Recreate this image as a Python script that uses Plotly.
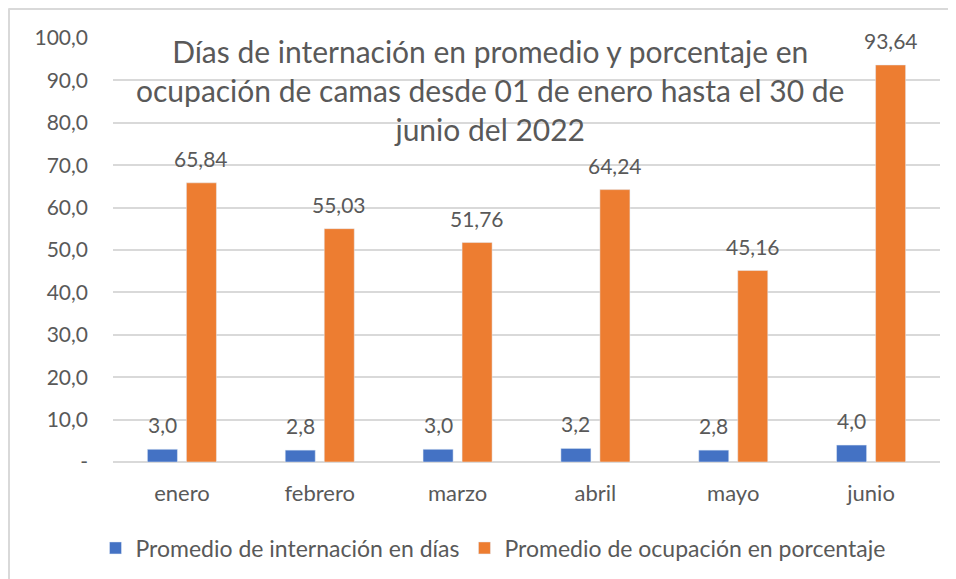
import plotly.graph_objects as go

months = ["enero", "febrero", "marzo", "abril", "mayo", "junio"]
dias = [3.0, 2.8, 3.0, 3.2, 2.8, 4.0]
ocupacion = [65.84, 55.03, 51.76, 64.24, 45.16, 93.64]
dias_labels = ["3,0", "2,8", "3,0", "3,2", "2,8", "4,0"]
ocup_labels = ["65,84", "55,03", "51,76", "64,24", "45,16", "93,64"]
ytick_vals = [0, 10, 20, 30, 40, 50, 60, 70, 80, 90, 100]
ytick_text = ["-", "10,0", "20,0", "30,0", "40,0", "50,0", "60,0", "70,0", "80,0", "90,0", "100,0"]
series_names = ["Promedio de internación en días", "Promedio de ocupación en porcentaje"]
title_text = "Días de internación en promedio y porcentaje en<br>ocupación de camas desde 01 de enero hasta el 30 de<br>junio del 2022"

FONT = "Lato"
GRAY = "#595959"
OFF = 8  # browser body margin
W, H = 956 - OFF, 579 - OFF
L, T = 113 - OFF, 38 - OFF
R = W - (940 - OFF)
B = H - (462 - OFF)
pw, ph = W - L - R, H - T - B

def px_x(p):
    return (p - OFF - L) / pw

def px_y(p):
    return (H - B - (p - OFF)) / ph

fig = go.Figure()
fig.add_trace(go.Bar(x=months, y=dias, name=series_names[0], marker_color="#4472C4"))
fig.add_trace(go.Bar(x=months, y=ocupacion, name=series_names[1], marker_color="#ED7D31"))

annots = []
for m, v, t in zip(months, dias, dias_labels):
    annots.append(dict(x=m, y=v, text=t, xshift=-19.5, yshift=10, yanchor="bottom",
                       showarrow=False, font=dict(family=FONT, size=21, color=GRAY)))
for m, v, t in zip(months, ocupacion, ocup_labels):
    annots.append(dict(x=m, y=v, text=t, xshift=19.5, yshift=10, yanchor="bottom",
                       showarrow=False, font=dict(family=FONT, size=21, color=GRAY)))
annots.append(dict(xref="paper", yref="paper", x=px_x(490), y=px_y(90), text=title_text,
                   xanchor="center", yanchor="middle", showarrow=False, align="center",
                   font=dict(family=FONT, size=30, color=GRAY)))

shapes = [
    dict(type="line", xref="paper", yref="paper", x0=px_x(8.5), x1=px_x(970), y0=px_y(8.5), y1=px_y(8.5),
         line=dict(color="#d9d9d9", width=3)),
    dict(type="line", xref="paper", yref="paper", x0=px_x(8.5), x1=px_x(8.5), y0=px_y(8.5), y1=px_y(590),
         line=dict(color="#d9d9d9", width=3)),
]

fig.update_layout(
    width=W, height=H,
    margin=dict(l=L, r=R, t=T, b=B, autoexpand=False),
    paper_bgcolor="white", plot_bgcolor="white",
    barmode="group", bargap=0.434, bargroupgap=0.23,
    font=dict(family=FONT, color=GRAY),
    showlegend=True,
    legend=dict(orientation="h", x=px_x(493), xanchor="center", y=px_y(548), yanchor="middle",
                font=dict(family=FONT, size=23, color=GRAY), itemwidth=30),
    annotations=annots,
    shapes=shapes,
)
fig.update_xaxes(showgrid=False, showline=False, ticks="", ticklabelstandoff=16,
                 tickfont=dict(family=FONT, size=22, color=GRAY))
fig.update_yaxes(range=[0, 100], tickvals=ytick_vals, ticktext=ytick_text,
                 showgrid=True, gridcolor="#d9d9d9", gridwidth=1.5,
                 zeroline=True, zerolinecolor="#d9d9d9", zerolinewidth=1.5,
                 showline=False, ticks="", ticklabelstandoff=24,
                 tickfont=dict(family=FONT, size=21, color=GRAY))

fig.write_html("out.html")
